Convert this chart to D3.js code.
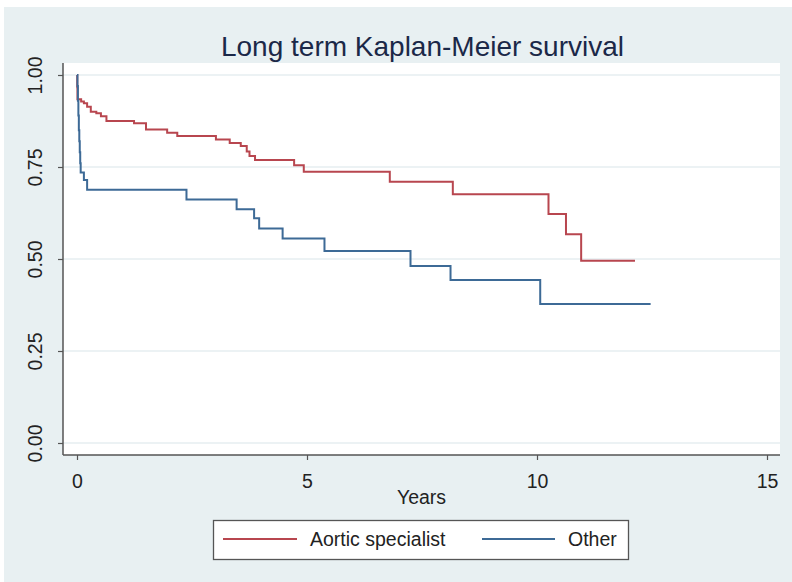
<!DOCTYPE html>
<html>
<head>
<meta charset="utf-8">
<script src="https://cdn.jsdelivr.net/npm/d3@7"></script>
<style>
  html, body { margin: 0; padding: 0; background: #ffffff; }
  svg { display: block; font-family: "Liberation Sans", Arial, Helvetica, sans-serif; }
</style>
</head>
<body>
<svg id="chart" width="792" height="582"></svg>
<script>
// ---- Data ----
const title = "Long term Kaplan-Meier survival";
const xLabel = "Years";
const seriesNames = ["Aortic specialist", "Other"];
const xTicks = [0, 5, 10, 15];
const yTicks = [0, 0.25, 0.5, 0.75, 1];

const aorticTimes = [0, 0.005, 0.01, 0.09, 0.15, 0.22, 0.30, 0.42, 0.52, 0.64, 1.24, 1.50, 1.96, 2.18, 3.02, 3.32, 3.56, 3.69, 3.75, 3.87, 4.72, 4.93, 6.80, 8.17, 10.25, 10.63, 10.96, 12.13];
const aorticSurv  = [1.0, 0.967, 0.934, 0.928, 0.923, 0.914, 0.900, 0.896, 0.888, 0.875, 0.869, 0.852, 0.843, 0.834, 0.825, 0.815, 0.807, 0.792, 0.780, 0.769, 0.755, 0.737, 0.710, 0.676, 0.622, 0.567, 0.495, 0.495];

const otherTimes = [0, 0.01, 0.02, 0.03, 0.04, 0.05, 0.06, 0.07, 0.08, 0.15, 0.22, 2.38, 3.47, 3.85, 3.96, 4.47, 5.38, 7.25, 8.12, 10.07, 12.47];
const otherSurv  = [1.0, 0.97, 0.93, 0.89, 0.85, 0.82, 0.79, 0.76, 0.735, 0.715, 0.688, 0.662, 0.635, 0.611, 0.583, 0.556, 0.522, 0.481, 0.443, 0.378, 0.378];

// ---- Layout ----
const W = 792, H = 582;
const plot = { left: 63, right: 780, top: 63, bottom: 455 };
const colors = ["#b8464f", "#3d6a96"];
const FONT = '"Liberation Sans", Arial, Helvetica, sans-serif';

const svg = d3.select("#chart");

// background region
svg.append("rect").attr("x", 4).attr("y", 7).attr("width", W - 4).attr("height", H - 7)
  .attr("fill", "#e8f0f2");

// plot region
svg.append("rect").attr("x", plot.left).attr("y", plot.top)
  .attr("width", plot.right - plot.left).attr("height", plot.bottom - plot.top)
  .attr("fill", "#ffffff");

const x = d3.scaleLinear().domain([0, 15]).range([77, 767]);
const y = d3.scaleLinear().domain([0, 1]).range([443, 75]);

// gridlines
svg.append("g").selectAll("line").data(yTicks).join("line")
  .attr("x1", plot.left).attr("x2", plot.right)
  .attr("y1", d => y(d)).attr("y2", d => y(d))
  .attr("stroke", "#e6eef1").attr("stroke-width", 1.5);

// y axis
const yAxis = d3.axisLeft(y).tickValues(yTicks).tickFormat(d3.format(".2f")).tickSize(5).tickSizeOuter(0);
const gy = svg.append("g").attr("transform", `translate(${plot.left},0)`).call(yAxis);
gy.select(".domain").attr("d", `M0,${plot.top}V${plot.bottom}`).attr("stroke", "#555").attr("stroke-width", 1.5);
gy.selectAll(".tick line").attr("stroke", "#555").attr("stroke-width", 1.2);
gy.selectAll(".tick text")
  .attr("transform", "rotate(-90)")
  .attr("x", 0).attr("y", -21).attr("dy", 0)
  .attr("text-anchor", "middle")
  .attr("font-size", 19.5).attr("fill", "#222")
  .attr("font-family", FONT);

// x axis
const xAxis = d3.axisBottom(x).tickValues(xTicks).tickFormat(d3.format("d")).tickSize(5).tickSizeOuter(0);
const gx = svg.append("g").attr("transform", `translate(0,${plot.bottom})`).call(xAxis);
gx.select(".domain").attr("d", `M${plot.left},0H${plot.right}`).attr("stroke", "#555").attr("stroke-width", 1.5);
gx.selectAll(".tick line").attr("stroke", "#555").attr("stroke-width", 1.2);
gx.selectAll(".tick text").attr("y", 33).attr("dy", 0)
  .attr("font-size", 19.5).attr("fill", "#222")
  .attr("font-family", FONT);

// x label
svg.append("text").attr("x", (plot.left + plot.right) / 2).attr("y", 504)
  .attr("text-anchor", "middle").attr("font-size", 19.5).attr("fill", "#222").text(xLabel);

// title
svg.append("text").attr("x", (plot.left + plot.right) / 2 + 1).attr("y", 56)
  .attr("text-anchor", "middle").attr("font-size", 28).attr("fill", "#1b2848").text(title);

// curves
const line = d3.line().x(d => x(d[0])).y(d => y(d[1])).curve(d3.curveStepAfter);
const seriesData = [
  d3.zip(aorticTimes, aorticSurv),
  d3.zip(otherTimes, otherSurv)
];
svg.append("g").selectAll("path").data(seriesData).join("path")
  .attr("d", line)
  .attr("fill", "none")
  .attr("stroke", (d, i) => colors[i])
  .attr("stroke-width", 2);

// legend
const lg = svg.append("g");
lg.append("rect").attr("x", 213.5).attr("y", 520.5).attr("width", 415).attr("height", 39)
  .attr("fill", "#ffffff").attr("stroke", "#555").attr("stroke-width", 1.3);
const legendItems = [
  { name: seriesNames[0], x1: 223, x2: 297, tx: 310 },
  { name: seriesNames[1], x1: 482, x2: 555, tx: 568 }
];
legendItems.forEach((it, i) => {
  lg.append("line").attr("x1", it.x1).attr("x2", it.x2).attr("y1", 539).attr("y2", 539)
    .attr("stroke", colors[i]).attr("stroke-width", 2);
  lg.append("text").attr("x", it.tx).attr("y", 546).attr("font-size", 19.5).attr("fill", "#222").text(it.name);
});
</script>
</body>
</html>
